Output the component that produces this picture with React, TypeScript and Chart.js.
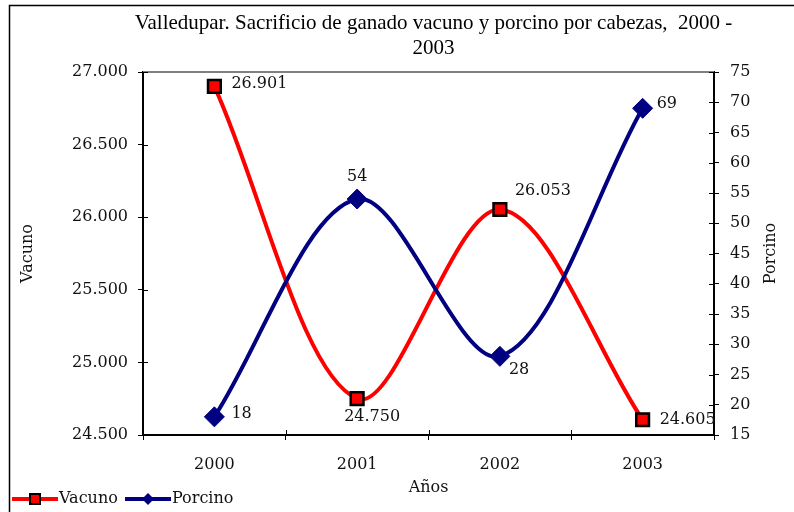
import React, { useEffect, useRef } from "react";
import { Chart, registerables } from "chart.js";

Chart.register(...registerables);

const years = ["2000", "2001", "2002", "2003"];
const vacuno = [26901, 24750, 26053, 24605];
const porcino = [18, 54, 28, 69];
const titleLines = [
  "Valledupar. Sacrificio de ganado vacuno y porcino por cabezas,  2000 -",
  "2003",
];

// label placement (style only): [dx, dy, align]
const vacunoLabelPos: [number, number, CanvasTextAlign][] = [
  [17, -3, "left"],
  [15, 18, "center"],
  [15, -19, "left"],
  [17, 0, "left"],
];
const porcinoLabelPos: [number, number, CanvasTextAlign][] = [
  [17, -3, "left"],
  [0, -22, "center"],
  [9, 13, "left"],
  [14, -4, "left"],
];

const SERIF = "'DejaVu Serif', serif";
const TITLE_FONT = "'Liberation Serif', 'Times New Roman', serif";
const FS = 16;

const fmt = (v: number) =>
  Math.round(v)
    .toString()
    .replace(/\B(?=(\d{3})+(?!\d))/g, ".");

const decorPlugin = {
  id: "decor",
  beforeDraw(chart: any) {
    const { ctx, width, height } = chart;
    ctx.save();
    ctx.fillStyle = "#fff";
    ctx.fillRect(0, 0, width, height);
    ctx.restore();
  },
  afterDraw(chart: any) {
    const { ctx, chartArea } = chart;
    const { left, right, top, bottom } = chartArea;
    ctx.save();
    // outer frame
    ctx.strokeStyle = "#000";
    ctx.lineWidth = 1.5;
    ctx.strokeRect(9.5, 5.5, 800, 520);
    // top gray line
    ctx.strokeStyle = "#808080";
    ctx.lineWidth = 2;
    ctx.beginPath();
    ctx.moveTo(left, top);
    ctx.lineTo(right, top);
    ctx.stroke();
    // inner halves of ticks
    ctx.strokeStyle = "#000";
    ctx.lineWidth = 1;
    const yL = chart.scales.y;
    yL.ticks.forEach((_: any, i: number) => {
      const p = Math.round(yL.getPixelForTick(i)) + 0.5;
      ctx.beginPath();
      ctx.moveTo(left, p);
      ctx.lineTo(left + 5, p);
      ctx.stroke();
    });
    const yR = chart.scales.y1;
    yR.ticks.forEach((_: any, i: number) => {
      const p = Math.round(yR.getPixelForTick(i)) + 0.5;
      ctx.beginPath();
      ctx.moveTo(right - 5, p);
      ctx.lineTo(right, p);
      ctx.stroke();
    });
    const xs = chart.scales.x;
    for (let i = 0; i <= years.length; i++) {
      const p = Math.round(xs.getPixelForValue(i - 0.5)) + 0.5;
      ctx.beginPath();
      ctx.moveTo(p, bottom - 5);
      ctx.lineTo(p, bottom);
      ctx.stroke();
    }
    // title
    ctx.fillStyle = "#000";
    ctx.font = `21px ${TITLE_FONT}`;
    ctx.textAlign = "center";
    ctx.textBaseline = "middle";
    const cx = (left + right) / 2 + 5;
    titleLines.forEach((t, i) => ctx.fillText(t, cx, 23 + i * 25));

    // right axis title, reading bottom-to-top
    ctx.font = `${FS}px ${SERIF}`;
    ctx.fillStyle = "#111";
    ctx.save();
    ctx.translate(771, (top + bottom) / 2);
    ctx.rotate(-Math.PI / 2);
    ctx.fillText("Porcino", 0, 0);
    ctx.restore();

    // data labels
    const sets: [number, number[], [number, number, CanvasTextAlign][], (v: number) => string][] = [
      [0, vacuno, vacunoLabelPos, fmt],
      [1, porcino, porcinoLabelPos, (v) => String(v)],
    ];
    sets.forEach(([di, vals, pos, f]) => {
      const meta = chart.getDatasetMeta(di);
      meta.data.forEach((pt: any, i: number) => {
        const [dx, dy, al] = pos[i];
        ctx.textAlign = al;
        ctx.fillText(f(vals[i]), pt.x + dx, pt.y + dy);
      });
    });

    // legend
    const ly = 499;
    ctx.lineWidth = 4;
    ctx.strokeStyle = "#FF0000";
    ctx.beginPath();
    ctx.moveTo(12, ly);
    ctx.lineTo(58, ly);
    ctx.stroke();
    ctx.fillStyle = "#FF0000";
    ctx.fillRect(30, ly - 5, 10, 10);
    ctx.lineWidth = 2;
    ctx.strokeStyle = "#000";
    ctx.strokeRect(30, ly - 5, 10, 10);
    ctx.lineWidth = 4;
    ctx.strokeStyle = "#000080";
    ctx.beginPath();
    ctx.moveTo(125, ly);
    ctx.lineTo(171, ly);
    ctx.stroke();
    ctx.fillStyle = "#000080";
    ctx.beginPath();
    ctx.moveTo(148, ly - 6);
    ctx.lineTo(154, ly);
    ctx.lineTo(148, ly + 6);
    ctx.lineTo(142, ly);
    ctx.closePath();
    ctx.fill();
    ctx.fillStyle = "#111";
    ctx.font = `${FS}px ${SERIF}`;
    ctx.textAlign = "left";
    ctx.fillText("Vacuno", 59, ly);
    ctx.fillText("Porcino", 172, ly);
    ctx.restore();
  },
};

export default function App() {
  const ref = useRef<HTMLCanvasElement>(null);
  useEffect(() => {
    document.body.style.margin = "0";
    const canvas = ref.current!;
    const tickFont = { family: SERIF, size: FS };
    const chart = new Chart(canvas, {
      type: "line",
      data: {
        labels: years,
        datasets: [
          {
            label: "Vacuno",
            data: vacuno,
            yAxisID: "y",
            borderColor: "#FF0000",
            backgroundColor: "#FF0000",
            borderWidth: 4,
            pointStyle: "rect",
            pointRadius: 9,
            pointHoverRadius: 9,
            pointBackgroundColor: "#FF0000",
            pointBorderColor: "#000",
            pointBorderWidth: 2.5,
            tension: 0.33,
            order: 1,
            clip: false,
          } as any,
          {
            label: "Porcino",
            data: porcino,
            yAxisID: "y1",
            borderColor: "#000080",
            backgroundColor: "#000080",
            borderWidth: 4,
            pointStyle: "rectRot",
            pointRadius: 10,
            pointHoverRadius: 10,
            pointBackgroundColor: "#000080",
            pointBorderColor: "#000080",
            pointBorderWidth: 1,
            tension: 0.33,
            order: 0,
            clip: false,
          } as any,
        ],
      },
      options: {
        responsive: false,
        animation: false,
        events: [],
        layout: { padding: { top: 72, left: 0, right: 0, bottom: 0 } },
        plugins: {
          legend: { display: false },
          title: { display: false },
          tooltip: { enabled: false },
        },
        scales: {
          x: {
            type: "category",
            offset: true,
            grid: {
              offset: true,
              drawOnChartArea: false,
              tickLength: 5,
              color: "#000",
            },
            border: { color: "#000", width: 2 },
            ticks: { font: tickFont, color: "#111", padding: 15 },
            title: {
              display: true,
              text: "Años",
              font: tickFont,
              color: "#111",
              padding: { top: 0, bottom: 15 },
            },
            afterFit: (s: any) => {
              s.height = 77;
            },
          },
          y: {
            position: "left",
            min: 24500,
            max: 27000,
            grid: { drawOnChartArea: false, tickLength: 5, color: "#000" },
            border: { color: "#000", width: 2 },
            ticks: {
              stepSize: 500,
              font: tickFont,
              color: "#111",
              padding: 10,
              callback: (v: any) => fmt(Number(v)),
            },
            title: {
              display: true,
              text: "Vacuno",
              font: tickFont,
              color: "#111",
              padding: { top: 18, bottom: 0 },
            },
            afterFit: (s: any) => {
              s.width = 143;
            },
          },
          y1: {
            position: "right",
            min: 15,
            max: 75,
            grid: { drawOnChartArea: false, tickLength: 5, color: "#000" },
            border: { color: "#000", width: 2 },
            ticks: {
              stepSize: 5,
              font: tickFont,
              color: "#111",
              padding: 11,
            },
            title: { display: false },
            afterFit: (s: any) => {
              s.width = 80;
            },
          },
        },
      },
      plugins: [decorPlugin],
    });
    return () => chart.destroy();
  }, []);
  return (
    <div style={{ width: 794, height: 512 }}>
      <canvas ref={ref} width={794} height={512} style={{ width: 794, height: 512, display: "block" }} />
    </div>
  );
}
